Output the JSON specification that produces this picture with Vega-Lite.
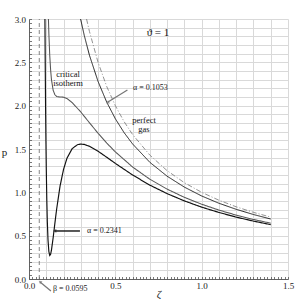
{
  "$schema": "https://vega.github.io/schema/vega-lite/v6.json",
  "width": 259,
  "height": 260,
  "autosize": "none",
  "padding": {"left": 29, "top": 19, "right": 11, "bottom": 20},
  "background": "white",
  "config": {"view": {"stroke": null}, "font": "Liberation Serif"},
  "datasets": {
    "curves": [
      {"s": "perfect", "z": 0.3333, "p": 3.0},
      {"s": "perfect", "z": 0.35, "p": 2.857},
      {"s": "perfect", "z": 0.4, "p": 2.5},
      {"s": "perfect", "z": 0.45, "p": 2.222},
      {"s": "perfect", "z": 0.5, "p": 2.0},
      {"s": "perfect", "z": 0.55, "p": 1.818},
      {"s": "perfect", "z": 0.6, "p": 1.667},
      {"s": "perfect", "z": 0.7, "p": 1.429},
      {"s": "perfect", "z": 0.8, "p": 1.25},
      {"s": "perfect", "z": 0.9, "p": 1.111},
      {"s": "perfect", "z": 1.0, "p": 1.0},
      {"s": "perfect", "z": 1.1, "p": 0.909},
      {"s": "perfect", "z": 1.2, "p": 0.833},
      {"s": "perfect", "z": 1.3, "p": 0.769},
      {"s": "perfect", "z": 1.4, "p": 0.714},
      {"s": "a1053", "z": 0.2988, "p": 3.0},
      {"s": "a1053", "z": 0.32, "p": 2.811},
      {"s": "a1053", "z": 0.35, "p": 2.582},
      {"s": "a1053", "z": 0.4, "p": 2.279},
      {"s": "a1053", "z": 0.45, "p": 2.041},
      {"s": "a1053", "z": 0.5, "p": 1.849},
      {"s": "a1053", "z": 0.55, "p": 1.691},
      {"s": "a1053", "z": 0.6, "p": 1.558},
      {"s": "a1053", "z": 0.7, "p": 1.346},
      {"s": "a1053", "z": 0.8, "p": 1.186},
      {"s": "a1053", "z": 0.9, "p": 1.06},
      {"s": "a1053", "z": 1.0, "p": 0.958},
      {"s": "a1053", "z": 1.1, "p": 0.874},
      {"s": "a1053", "z": 1.2, "p": 0.804},
      {"s": "a1053", "z": 1.3, "p": 0.744},
      {"s": "a1053", "z": 1.4, "p": 0.692},
      {"s": "crit", "z": 0.1125, "p": 3.0},
      {"s": "crit", "z": 0.115, "p": 2.835},
      {"s": "crit", "z": 0.12, "p": 2.585},
      {"s": "crit", "z": 0.125, "p": 2.42},
      {"s": "crit", "z": 0.13, "p": 2.302},
      {"s": "crit", "z": 0.14, "p": 2.177},
      {"s": "crit", "z": 0.15, "p": 2.126},
      {"s": "crit", "z": 0.16, "p": 2.106},
      {"s": "crit", "z": 0.17, "p": 2.102},
      {"s": "crit", "z": 0.1785, "p": 2.101},
      {"s": "crit", "z": 0.19, "p": 2.101},
      {"s": "crit", "z": 0.2, "p": 2.097},
      {"s": "crit", "z": 0.22, "p": 2.082},
      {"s": "crit", "z": 0.25, "p": 2.036},
      {"s": "crit", "z": 0.3, "p": 1.927},
      {"s": "crit", "z": 0.35, "p": 1.803},
      {"s": "crit", "z": 0.4, "p": 1.682},
      {"s": "crit", "z": 0.45, "p": 1.569},
      {"s": "crit", "z": 0.5, "p": 1.467},
      {"s": "crit", "z": 0.6, "p": 1.292},
      {"s": "crit", "z": 0.7, "p": 1.151},
      {"s": "crit", "z": 0.8, "p": 1.037},
      {"s": "crit", "z": 0.9, "p": 0.942},
      {"s": "crit", "z": 1.0, "p": 0.863},
      {"s": "crit", "z": 1.1, "p": 0.795},
      {"s": "crit", "z": 1.2, "p": 0.737},
      {"s": "crit", "z": 1.3, "p": 0.687},
      {"s": "crit", "z": 1.4, "p": 0.644},
      {"s": "a2341", "z": 0.0923, "p": 3.0},
      {"s": "a2341", "z": 0.094, "p": 2.492},
      {"s": "a2341", "z": 0.096, "p": 1.996},
      {"s": "a2341", "z": 0.098, "p": 1.599},
      {"s": "a2341", "z": 0.1, "p": 1.281},
      {"s": "a2341", "z": 0.103, "p": 0.923},
      {"s": "a2341", "z": 0.106, "p": 0.67},
      {"s": "a2341", "z": 0.11, "p": 0.455},
      {"s": "a2341", "z": 0.115, "p": 0.317},
      {"s": "a2341", "z": 0.12, "p": 0.272},
      {"s": "a2341", "z": 0.125, "p": 0.285},
      {"s": "a2341", "z": 0.13, "p": 0.332},
      {"s": "a2341", "z": 0.14, "p": 0.478},
      {"s": "a2341", "z": 0.15, "p": 0.645},
      {"s": "a2341", "z": 0.16, "p": 0.805},
      {"s": "a2341", "z": 0.18, "p": 1.074},
      {"s": "a2341", "z": 0.2, "p": 1.265},
      {"s": "a2341", "z": 0.22, "p": 1.394},
      {"s": "a2341", "z": 0.25, "p": 1.504},
      {"s": "a2341", "z": 0.28, "p": 1.549},
      {"s": "a2341", "z": 0.3, "p": 1.557},
      {"s": "a2341", "z": 0.32, "p": 1.553},
      {"s": "a2341", "z": 0.35, "p": 1.531},
      {"s": "a2341", "z": 0.4, "p": 1.474},
      {"s": "a2341", "z": 0.45, "p": 1.405},
      {"s": "a2341", "z": 0.5, "p": 1.334},
      {"s": "a2341", "z": 0.6, "p": 1.2},
      {"s": "a2341", "z": 0.7, "p": 1.083},
      {"s": "a2341", "z": 0.8, "p": 0.985},
      {"s": "a2341", "z": 0.9, "p": 0.901},
      {"s": "a2341", "z": 1.0, "p": 0.829},
      {"s": "a2341", "z": 1.1, "p": 0.768},
      {"s": "a2341", "z": 1.2, "p": 0.714},
      {"s": "a2341", "z": 1.3, "p": 0.668},
      {"s": "a2341", "z": 1.4, "p": 0.627}
    ],
    "beta": [{"z": 0.0595, "p": 0, "p2": 3}],
    "arrows": [
      {"k": "thin", "z": 0.57, "p": 2.18, "z2": 0.455, "p2": 2.04},
      {"k": "thick", "z": 0.295, "p": 0.554, "z2": 0.152, "p2": 0.554},
      {"k": "thin", "z": 0.127, "p": -0.138, "z2": 0.064, "p2": -0.035}
    ],
    "heads": [
      {"k": "thin", "z": 0.458, "p": 2.037, "ang": 239},
      {"k": "thick", "z": 0.152, "p": 0.554, "ang": 270},
      {"k": "thin", "z": 0.066, "p": -0.036, "ang": 309}
    ],
    "notesC": [
      {"t": "ϑ = 1", "z": 0.747, "p": 2.84, "sz": 11},
      {"t": "critical", "z": 0.226, "p": 2.37, "sz": 8.5},
      {"t": "isotherm", "z": 0.226, "p": 2.265, "sz": 8.5},
      {"t": "perfect", "z": 0.666, "p": 1.83, "sz": 8.5},
      {"t": "gas", "z": 0.666, "p": 1.73, "sz": 8.5}
    ],
    "notesL": [
      {"t": "α = 0.1053", "z": 0.602, "p": 2.2},
      {"t": "α = 0.2341", "z": 0.336, "p": 0.554},
      {"t": "β = 0.0595", "z": 0.139, "p": -0.12}
    ]
  },
  "encoding": {
    "x": {
      "field": "z", "type": "quantitative", "title": "ζ",
      "scale": {"domain": [0, 1.5], "nice": false},
      "axis": {
        "values": [0,0.02,0.04,0.06,0.08,0.1,0.12,0.14,0.16,0.18,0.2,0.22,0.24,0.26,0.28,0.3,0.32,0.34,0.36,0.38,0.4,0.42,0.44,0.46,0.48,0.5,0.52,0.54,0.56,0.58,0.6,0.62,0.64,0.66,0.68,0.7,0.72,0.74,0.76,0.78,0.8,0.82,0.84,0.86,0.88,0.9,0.92,0.94,0.96,0.98,1,1.02,1.04,1.06,1.08,1.1,1.12,1.14,1.16,1.18,1.2,1.22,1.24,1.26,1.28,1.3,1.32,1.34,1.36,1.38,1.4,1.42,1.44,1.46,1.48,1.5],
        "grid": true,
        "gridColor": "#d9d9d9",
        "gridWidth": 1,
        "gridOpacity": {"condition": {"test": "abs(datum.value*10 - round(datum.value*10)) < 0.001", "value": 1}, "value": 0},
        "tickSize": -2.5,
        "tickColor": "#555",
        "tickWidth": 0.8,
        "domainColor": "#555",
        "domainWidth": 0.9,
        "labelExpr": "abs(datum.value*2 - round(datum.value*2)) < 0.001 ? format(datum.value, '.1f') : ''",
        "labelOverlap": false,
        "labelBound": false,
        "labelFlush": false,
        "labelFont": "Liberation Serif",
        "labelFontSize": 9,
        "labelColor": "#222",
        "labelPadding": 5,
        "titleFont": "Liberation Serif",
        "titleFontStyle": "italic",
        "titleFontWeight": "normal",
        "titleFontSize": 11,
        "titleColor": "#222",
        "titleY": 15,
        "titleBaseline": "middle"
      }
    },
    "y": {
      "field": "p", "type": "quantitative", "title": "p",
      "scale": {"domain": [0, 3], "nice": false},
      "axis": {
        "values": [0,0.05,0.1,0.15,0.2,0.25,0.3,0.35,0.4,0.45,0.5,0.55,0.6,0.65,0.7,0.75,0.8,0.85,0.9,0.95,1,1.05,1.1,1.15,1.2,1.25,1.3,1.35,1.4,1.45,1.5,1.55,1.6,1.65,1.7,1.75,1.8,1.85,1.9,1.95,2,2.05,2.1,2.15,2.2,2.25,2.3,2.35,2.4,2.45,2.5,2.55,2.6,2.65,2.7,2.75,2.8,2.85,2.9,2.95,3],
        "grid": true,
        "gridColor": "#d9d9d9",
        "gridWidth": 1,
        "gridOpacity": {"condition": {"test": "abs(datum.value*10 - round(datum.value*10)) < 0.001", "value": 1}, "value": 0},
        "tickSize": -2.5,
        "tickColor": "#555",
        "tickWidth": 0.8,
        "domainColor": "#555",
        "domainWidth": 0.9,
        "labelExpr": "abs(datum.value*2 - round(datum.value*2)) < 0.001 ? format(datum.value, '.1f') : ''",
        "labelOverlap": false,
        "labelBound": false,
        "labelFlush": false,
        "labelFont": "Liberation Serif",
        "labelFontSize": 9,
        "labelColor": "#222",
        "labelPadding": 6,
        "titleFont": "Liberation Serif",
        "titleFontWeight": "normal",
        "titleFontSize": 11,
        "titleColor": "#222",
        "titleAngle": 0,
        "titleX": -25,
        "titleY": 133,
        "titleAlign": "center",
        "titleBaseline": "middle"
      }
    }
  },
  "layer": [
    {
      "data": {"name": "curves"},
      "mark": {"type": "line", "strokeCap": "butt"},
      "encoding": {
        "detail": {"field": "s"},
        "color": {"field": "s", "type": "nominal", "legend": null,
          "scale": {"domain": ["perfect", "a1053", "crit", "a2341"], "range": ["#777777", "#111111", "#555555", "#111111"]}},
        "strokeWidth": {"field": "s", "type": "nominal", "legend": null,
          "scale": {"domain": ["perfect", "a1053", "crit", "a2341"], "range": [0.8, 1.4, 0.8, 1.4]}},
        "strokeDash": {"field": "s", "type": "nominal", "legend": null,
          "scale": {"domain": ["perfect", "a1053", "crit", "a2341"], "range": [[5, 2, 1, 2], [1, 0], [1, 0], [1, 0]]}}
      }
    },
    {
      "data": {"name": "beta"},
      "mark": {"type": "rule", "color": "#777777", "strokeWidth": 0.9, "strokeDash": [4, 3]},
      "encoding": {
        "y2": {"field": "p2"}
      }
    },
    {
      "data": {"name": "arrows"},
      "mark": {"type": "rule"},
      "encoding": {
        "x2": {"field": "z2"},
        "y2": {"field": "p2"},
        "color": {"field": "k", "type": "nominal", "legend": null, "scale": {"domain": ["thin", "thick"], "range": ["#333333", "#999999"]}},
        "strokeWidth": {"field": "k", "type": "nominal", "legend": null, "scale": {"domain": ["thin", "thick"], "range": [0.7, 1.6]}}
      }
    },
    {
      "data": {"name": "heads"},
      "mark": {"type": "point", "shape": "triangle", "filled": true, "size": 14},
      "encoding": {
        "angle": {"field": "ang", "type": "quantitative", "scale": null},
        "color": {"field": "k", "type": "nominal", "legend": null, "scale": {"domain": ["thin", "thick"], "range": ["#333333", "#777777"]}}
      }
    },
    {
      "data": {"name": "notesC"},
      "mark": {"type": "text", "align": "center", "baseline": "middle", "font": "Liberation Serif", "color": "#111"},
      "encoding": {
        "text": {"field": "t"},
        "size": {"field": "sz", "type": "quantitative", "scale": null}
      }
    },
    {
      "data": {"name": "notesL"},
      "mark": {"type": "text", "align": "left", "baseline": "middle", "font": "Liberation Serif", "fontSize": 8, "color": "#222"},
      "encoding": {
        "text": {"field": "t"}
      }
    }
  ]
}
